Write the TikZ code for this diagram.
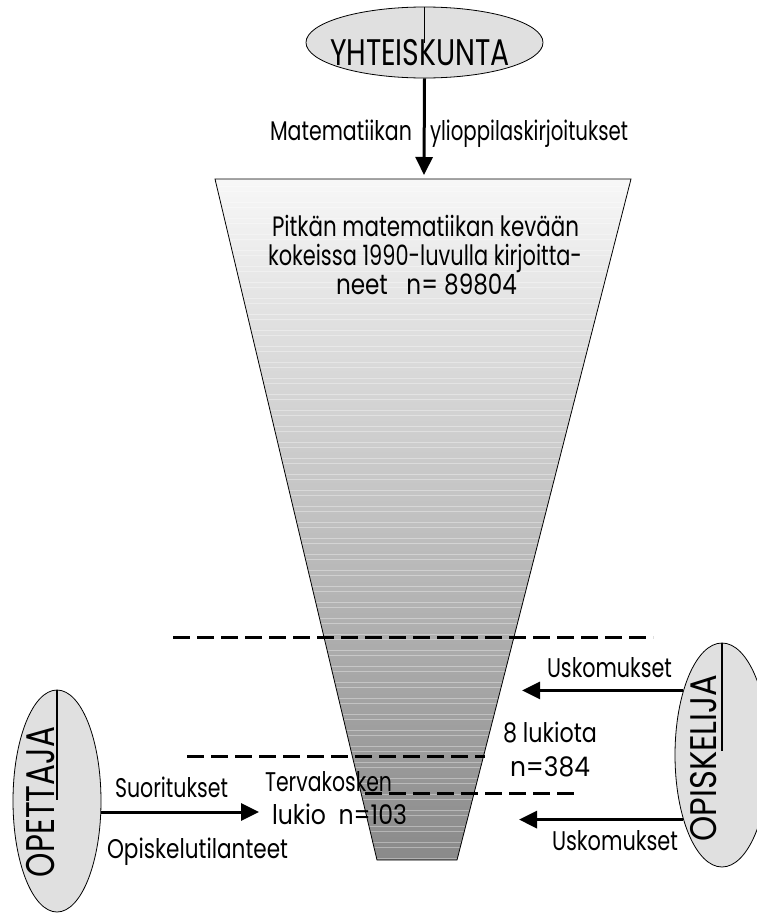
\documentclass[tikz,border=0pt]{standalone}
\usepackage{fontspec}
\setmainfont{Poppins}
\usepackage{graphicx}
\usetikzlibrary{shapes.geometric,arrows.meta}

% set #2 at its natural height, squeezed or widened to #1 pt
\newlength\fitlen
\newcommand\fitto[2]{%
  \settowidth{\fitlen}{#2}%
  \pgfmathsetmacro\fitratio{#1/\fitlen}%
  \scalebox{\fitratio}[1]{#2}}

\begin{document}
\begin{tikzpicture}[x=1pt,y=-1pt,
  bubble/.style={ellipse, draw=black, line width=0.8pt, fill=black!12, inner sep=0pt},
  lbl/.style={anchor=base, inner sep=0pt, font=\fontsize{27}{30}\selectfont},
  funtext/.style={lbl, font=\fontsize{28}{32}\selectfont},
  flow/.style={line width=3pt, -{Triangle[length=18pt,width=17pt]}},
  cut/.style={line width=3pt, dash pattern=on 17pt off 7pt},
  tick/.style={line width=1.2pt}]
\useasboundingbox (0,0) rectangle (757,913);

% ---- society ellipse on top
\node[bubble, minimum width=237pt, minimum height=71pt] (soc) at (424.5,42.5) {};
\draw[tick] (soc.north) -- ++(0,36);
\node[lbl, font=\fontsize{37}{40}\selectfont] (socT) at (420,65) {\fitto{180}{YHTEISKUNTA}};

% ---- the funnel
\coordinate (ftl) at (215,179);
\coordinate (ftr) at (631,179);
\coordinate (fbr) at (457,860);
\coordinate (fbl) at (377,860);
\path[top color=black!3, middle color=black!20, bottom color=black!46]
  (ftl) -- (ftr) -- (fbr) -- (fbl) -- cycle;
\begin{scope}
  \clip (ftl) -- (ftr) -- (fbr) -- (fbl) -- cycle;
  \foreach \s in {186,202,...,858} {
    \draw[white, opacity=.35, line width=.8pt] (200,\s) -- (650,\s);
    \draw[white, opacity=.35, line width=.8pt] (200,\s+5) -- (650,\s+5);
  }
\end{scope}
\draw[line width=0.8pt] (ftl) -- (ftr) -- (fbr) -- (fbl) -- cycle;

\node[funtext] (f1) at (425.5,236) {\fitto{307}{Pitkän matematiikan kevään}};
\node[funtext] (f2) at (425,265) {\fitto{314}{kokeissa 1990-luvulla kirjoitta-}};
\node[funtext] (f3) at (426.5,294) {\fitto{181}{neet\ \ \ n= 89804}};

% ---- incoming arrow from society
\coordinate (ftop) at (424,175);
\draw[flow] (soc.south) -- (ftop);
\node[lbl] (m1) at (341,140) {\fitto{142}{Matematiikan}};
\node[lbl] (m2) at (529,140) {\fitto{198}{ylioppilaskirjoitukset}};

% ---- sample boundaries
\coordinate (d1a) at (173,637); \coordinate (d1b) at (653,637);
\coordinate (d2a) at (187,756); \coordinate (d2b) at (485,756);
\coordinate (d3a) at (365,793); \coordinate (d3b) at (578,793);
\draw[cut] (d1a) -- (d1b);
\draw[cut] (d2a) -- (d2b);
\draw[cut] (d3a) -- (d3b);

\node[lbl] (l8a) at (550,742) {\fitto{94}{8 lukiota}};
\node[lbl] (l8b) at (550,776) {\fitto{80}{n=384}};
\node[lbl] (t1) at (328.5,791) {\fitto{127}{Tervakosken}};
\node[lbl] (t2) at (339.5,824) {\fitto{135}{lukio\ \ n=103}};

% ---- teacher
\node[bubble, minimum width=88pt, minimum height=222pt] (teach) at (57,801) {};
\draw[tick] (teach.north) -- ++(0,110);
\node[lbl, rotate=90, font=\fontsize{40}{44}\selectfont] (teachT) at (54,802) {\fitto{150}{OPETTAJA}};
\coordinate (s1) at (259,812);
\draw[flow] (teach.-14) -- (teach.-14 -| s1);
\node[lbl] (suo) at (171.5,797) {\fitto{113}{Suoritukset}};
\node[lbl] (opt) at (197.5,858) {\fitto{181}{Opiskelutilanteet}};

% ---- student
\node[bubble, minimum width=94pt, minimum height=224pt] (stud) at (722,755) {};
\draw[tick] (stud.north) -- ++(0,108);
\node[lbl, rotate=90, font=\fontsize{37}{40}\selectfont] (studT) at (716,758) {\fitto{167}{OPISKELIJA}};
\coordinate (u1) at (522,691);
\coordinate (u2) at (519,818);
\draw[flow] (stud.121) -- (stud.121 -| u1);
\draw[flow] (stud.239) -- (stud.239 -| u2);
\node[lbl] (us1) at (609.5,677) {\fitto{125}{Uskomukset}};
\node[lbl] (us2) at (615,850) {\fitto{126}{Uskomukset}};
\end{tikzpicture}
\end{document}
